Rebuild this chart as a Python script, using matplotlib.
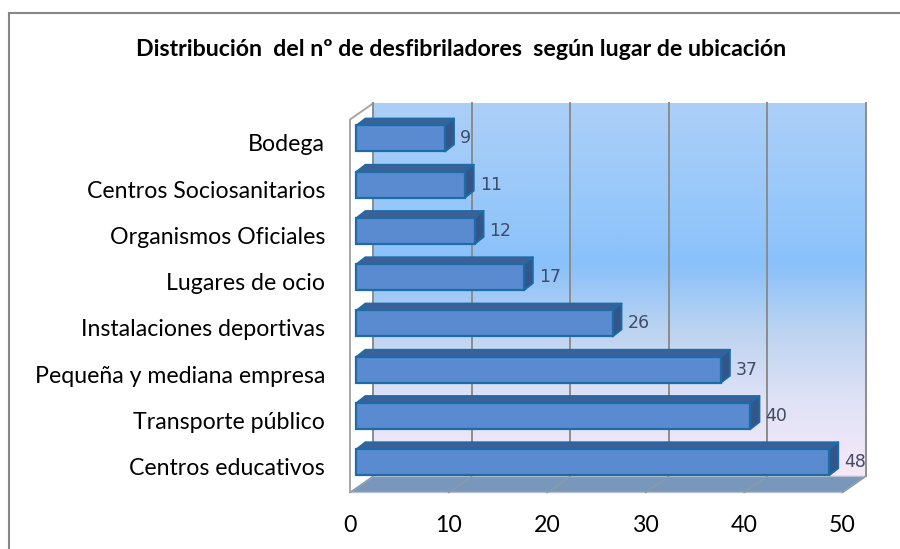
import numpy as np
import matplotlib
matplotlib.use("Agg")
import matplotlib.pyplot as plt
from matplotlib.patches import Polygon
from matplotlib.lines import Line2D
from matplotlib import font_manager

# ---- data ----
categories = ["Bodega", "Centros Sociosanitarios", "Organismos Oficiales",
              "Lugares de ocio", "Instalaciones deportivas",
              "Pequeña y mediana empresa", "Transporte público",
              "Centros educativos"]
values = [9, 11, 12, 17, 26, 37, 40, 48]
x_ticks = [0, 10, 20, 30, 40, 50]
title = "Distribución  del nº de desfibriladores  según lugar de ubicación"

# ---- figure / plot geometry (pixels) ----
W, H, DPI = 900, 549, 100
fig = plt.figure(figsize=(W / DPI, H / DPI), dpi=DPI)
fig.patch.set_facecolor("white")

x0_px, x1_px = 356.4, 849.0      # bar plane: value 0 .. 50
ytop_px, ybot_px = 115.0, 488.0  # bar plane: top .. floor
y_lo, y_hi = 7.557, -0.508        # category units at bottom / top

ax = fig.add_axes([x0_px / W, 1 - ybot_px / H,
                   (x1_px - x0_px) / W, (ybot_px - ytop_px) / H])
ax.set_axis_off()
XMAX = 50.0
sx = (x1_px - x0_px) / XMAX
sy = (ybot_px - ytop_px) / (y_lo - y_hi)


def depth(dx_px, up_px):
    """Pixel offset of a depth plane expressed in data units."""
    return dx_px / sx, -up_px / sy


bdx, bdy = depth(16.6, 11.6)   # back wall plane
fdx, fdy = depth(-6.4, -4.5)   # front (floor edge) plane
ddx, ddy = depth(9.0, 7.0)     # thickness of each bar

# ---- back wall with vertical gradient ----
stops = np.array([0.0, 0.26, 0.435, 0.61, 0.80, 1.0])
cols = np.array([[172, 207, 247], [152, 200, 250], [138, 193, 250],
                 [188, 211, 240], [224, 226, 246], [246, 233, 249]]) / 255.0
tt = np.linspace(0, 1, 256)
grad = np.stack([np.interp(tt, stops, cols[:, i]) for i in range(3)], axis=-1)
grad = grad[:, None, :]
img = ax.imshow(grad, extent=(bdx, XMAX + bdx, y_lo + bdy, y_hi + bdy),
                origin="upper", aspect="auto", interpolation="bilinear",
                zorder=0)
img.set_clip_on(False)

grid_c = "#8C8C8C"
for t in x_ticks:
    ax.add_line(Line2D([t + bdx, t + bdx], [y_hi + bdy, y_lo + bdy],
                       color=grid_c, lw=1.4, zorder=1, clip_on=False))

# ---- left side wall ----
left = Polygon([(fdx, y_hi + fdy), (fdx, y_lo + fdy),
                (bdx, y_lo + bdy), (bdx, y_hi + bdy)],
               closed=True, facecolor="white", edgecolor="none",
               zorder=1.5, clip_on=False)
ax.add_patch(left)
ax.add_line(Line2D([fdx, fdx], [y_hi + fdy, y_lo + fdy], color="#A6A6A6",
                   lw=1.4, zorder=2, clip_on=False))
ax.add_line(Line2D([fdx, bdx], [y_hi + fdy, y_hi + bdy], color="#A6A6A6",
                   lw=1.4, zorder=2, clip_on=False))
ax.add_line(Line2D([bdx, bdx], [y_hi + bdy, y_lo + bdy], color=grid_c,
                   lw=1.4, zorder=2, clip_on=False))

# ---- floor ----
floor = Polygon([(fdx, y_lo + fdy), (XMAX + fdx, y_lo + fdy),
                 (XMAX + bdx, y_lo + bdy), (bdx, y_lo + bdy)],
                closed=True, facecolor="#7897BA", edgecolor="#B9C2CC",
                lw=1.0, zorder=2, clip_on=False)
ax.add_patch(floor)
for t in x_ticks:
    ax.add_line(Line2D([t + fdx, t + bdx], [y_lo + fdy, y_lo + bdy],
                       color="#8C9AAA", lw=1.0, zorder=2.5, clip_on=False))

# ---- 3D bars ----
ypos = np.arange(len(categories))
h = 26.0 / sy
face_c, top_c, side_c, edge_c = "#5A8ACF", "#3E6096", "#34558A", "#1C6CA8"
for k, v in zip(ypos, values):
    yt, yb = k - h / 2, k + h / 2
    top = Polygon([(0, yt), (v, yt), (v + ddx, yt + ddy), (ddx, yt + ddy)],
                  closed=True, facecolor=top_c, edgecolor=edge_c, lw=1.3,
                  joinstyle="round", zorder=3, clip_on=False)
    side = Polygon([(v, yt), (v + ddx, yt + ddy), (v + ddx, yb + ddy), (v, yb)],
                   closed=True, facecolor=side_c, edgecolor=edge_c, lw=1.3,
                   joinstyle="round", zorder=3, clip_on=False)
    ax.add_patch(top)
    ax.add_patch(side)
ax.barh(ypos, values, height=h, color=face_c, edgecolor=edge_c, lw=1.6,
        zorder=4, clip_on=False)

ax.set_xlim(0, XMAX)
ax.set_ylim(y_lo, y_hi)

# ---- text ----
lab_font = ["Lato", "DejaVu Sans"]
installed = {f.name for f in font_manager.fontManager.ttflist}
title_font = (["Liberation Sans Narrow", "Lato", "DejaVu Sans"]
              if "Liberation Sans Narrow" in installed else lab_font)

cat_texts = []
for k, name in zip(ypos, categories):
    t = ax.annotate(name, xy=(fdx, k + fdy), xytext=(-25, 0),
                    textcoords="offset pixels", ha="right",
                    va="center_baseline", fontsize=16, family=lab_font,
                    color="black", annotation_clip=False)
    cat_texts.append(t)

tick_texts = []
for t in x_ticks:
    tx = ax.annotate(str(t), xy=(t + fdx, y_lo + fdy), xytext=(0, -33),
                     textcoords="offset pixels", ha="center", va="center",
                     fontsize=16, family=lab_font, color="black",
                     annotation_clip=False)
    tick_texts.append(tx)

val_texts = []
for k, v in zip(ypos, values):
    tv = ax.annotate(str(v), xy=(v, k), xytext=(15, 0),
                     textcoords="offset pixels", ha="left", va="center",
                     fontsize=11, family="DejaVu Sans", color="#3F4C62",
                     annotation_clip=False, zorder=5)
    val_texts.append(tv)

ttl = fig.text(461 / W, 1 - 49 / H, title, ha="center", va="center",
               fontsize=16, fontweight="bold", family=title_font,
               color="black")

# scale font sizes to the intended text widths
fig.canvas.draw()
r = fig.canvas.get_renderer()


def scale_to(ref, target, group):
    w = ref.get_window_extent(r).width
    f = target / w
    for g in group:
        g.set_fontsize(g.get_fontsize() * f)


scale_to(cat_texts[5], 292.0, cat_texts + tick_texts)
scale_to(val_texts[5], 22.0, val_texts)
scale_to(ttl, 652.0, [ttl])

# ---- chart frame ----
fx, fy = 9 / W, 1 - 13 / H
fig.add_artist(Line2D([fx, fx], [fy, 0], color="#878787", lw=1.5,
                      transform=fig.transFigure))
fig.add_artist(Line2D([fx, 1], [fy, fy], color="#878787", lw=1.5,
                      transform=fig.transFigure))

fig.savefig("out.png", dpi=DPI)
